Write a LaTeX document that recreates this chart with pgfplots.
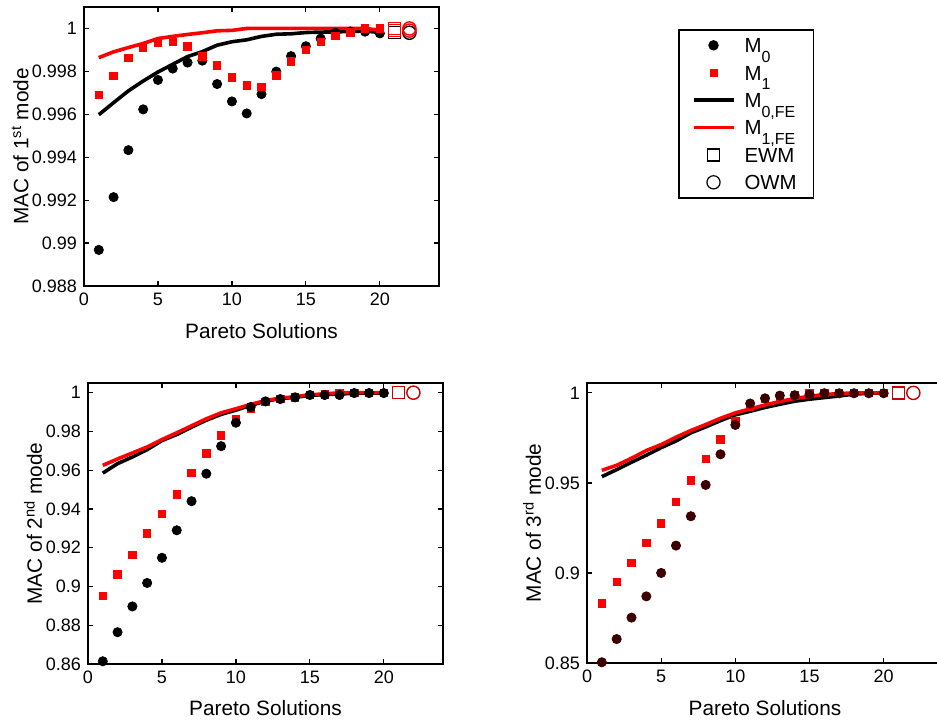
\documentclass[border=0pt]{standalone}
\usepackage{pgfplots}
\pgfplotsset{compat=1.18}
\usepackage{fontspec}
\setmainfont{Liberation Sans}

\definecolor{mred}{HTML}{FF0000}
\definecolor{mdark}{HTML}{3C0000}
\definecolor{mwm}{HTML}{C80000}

\newcommand{\sub}[1]{\raisebox{-0.9ex}{\fontsize{8}{9}\selectfont #1}}

\pgfplotsset{
  macaxis/.style={
    scale only axis, anchor=south west, width=177.5pt,
    xmin=0, xmax=24, xtick={0,5,10,15,20},
    tick align=inside, major tick length=2.5pt, clip=false,
    axis line style={line width=0.8pt},
    every tick/.style={black, line width=0.6pt},
    /pgf/number format/assume math mode=true,
    ticklabel style={font=\fontsize{9}{10}\selectfont},
    label style={font=\fontsize{10.4}{12}\selectfont},
    xlabel={Pareto Solutions},
  },
  m0/.style={only marks, mark=*, mark size=2.3pt, black},
  m1/.style={only marks, mark=square*, mark size=1.85pt, mred},
  fe0/.style={no marks, line width=1.8pt, black},
  fe1/.style={no marks, line width=1.8pt, mred},
  wmsq/.style={only marks, mark=square, mark size=3pt, mark options={line width=0.7pt}},
  wmci/.style={only marks, mark=o, mark size=3.3pt, mark options={line width=0.7pt}},
  legmark/.style={legend image code/.code={\draw[##1] plot coordinates {(10pt,0pt)};}},
  legline/.style={legend image code/.code={\draw[##1] (0pt,0pt) -- (20pt,0pt);}},
}

\begin{document}
\begin{tikzpicture}

% ---------------- 1st mode ----------------
\begin{axis}[macaxis,
  at={(42pt,217.5pt)}, height=139.5pt,
  ymin=0.988, ymax=1.001,
  ytick={0.988,0.990,0.992,0.994,0.996,0.998,1.000},
  yticklabels={0.988,0.99,0.992,0.994,0.996,0.998,1},
  ylabel={MAC of 1\textsuperscript{st} mode},
  xlabel style={at={(axis description cs:0.5,-0.161)}, anchor=center},
  ylabel style={at={(axis description cs:-0.180,0.5)}, anchor=center},
  legend style={at={(axis description cs:1.673,0.921)}, anchor=north west,
    draw=black, line width=0.8pt, font=\fontsize{10.2}{12}\selectfont,
    legend cell align=left, row sep=0pt, inner xsep=6.5pt, inner ysep=0.9pt,
    nodes={text height=10.55pt, text depth=3.15pt, inner ysep=0pt},
    /tikz/every odd column/.append style={column sep=2.6pt}},
]
\addlegendimage{only marks, mark=*, mark size=2.2pt, black, legmark}
\addlegendentry{M\sub{0}}
\addlegendimage{only marks, mark=square*, mark size=1.6pt, mred, legmark}
\addlegendentry{M\sub{1}}
\addlegendimage{line width=1.8pt, black, legline}
\addlegendentry{M\sub{0,FE}}
\addlegendimage{line width=1.8pt, mred, legline}
\addlegendentry{M\sub{1,FE}}
\addlegendimage{only marks, mark=square, mark size=3pt, black, mark options={line width=0.6pt}, legmark}
\addlegendentry{EWM}
\addlegendimage{only marks, mark=o, mark size=3.3pt, black, mark options={line width=0.6pt}, legmark}
\addlegendentry{OWM}

\addplot[fe0, forget plot] coordinates {
 (1,0.99598) (2,0.99654) (3,0.99709) (4,0.99755) (5,0.99797) (6,0.99833)
 (7,0.99869) (8,0.99892) (9,0.99922) (10,0.99938) (11,0.99947) (12,0.99963)
 (13,0.99973) (14,0.99975) (15,0.99981) (16,0.99983) (17,0.99984) (18,0.99986)
 (19,0.99988) (20,0.99981)};
\addplot[fe1, forget plot] coordinates {
 (1,0.99864) (2,0.99891) (3,0.99911) (4,0.99930) (5,0.99953) (6,0.99963)
 (7,0.99972) (8,0.99980) (9,0.99989) (10,0.99991) (11,1.0) (12,1.0)
 (13,1.0) (14,1.0) (15,1.0) (16,1.0) (17,1.0) (18,1.0) (19,1.0) (20,0.99992)};
\addplot[m0, forget plot] coordinates {
 (1,0.98968) (2,0.99214) (3,0.99433) (4,0.99623) (5,0.99760) (6,0.99813)
 (7,0.99841) (8,0.99850) (9,0.99741) (10,0.99660) (11,0.99604) (12,0.99694)
 (13,0.99799) (14,0.99871) (15,0.99917) (16,0.99953) (17,0.99980) (18,0.99986)
 (19,0.99985) (20,0.99977)};
\addplot[m1, forget plot] coordinates {
 (1,0.99690) (2,0.99780) (3,0.99864) (4,0.99908) (5,0.99935) (6,0.99936)
 (7,0.99917) (8,0.99869) (9,0.99827) (10,0.99772) (11,0.99735) (12,0.99727)
 (13,0.99782) (14,0.99846) (15,0.99900) (16,0.99938) (17,0.99964) (18,0.99981)
 (19,1.0) (20,1.0)};
\addplot[wmsq, black, forget plot] coordinates {(21,0.99980)};
\addplot[wmsq, mred, forget plot] coordinates {(21,0.99990) (21,1.0)};
\addplot[wmci, black, forget plot] coordinates {(22,0.99980)};
\addplot[wmci, mred, forget plot] coordinates {(22,0.99990) (22,1.0)};
\end{axis}

% ---------------- 2nd mode ----------------
\begin{axis}[macaxis,
  at={(44pt,28.5pt)}, height=140.5pt,
  ymin=0.86, ymax=1.005,
  ytick={0.86,0.88,0.90,0.92,0.94,0.96,0.98,1.00},
  yticklabels={0.86,0.88,0.9,0.92,0.94,0.96,0.98,1},
  ylabel={MAC of 2\textsuperscript{nd} mode},
  xlabel style={at={(axis description cs:0.5,-0.157)}, anchor=center},
  ylabel style={at={(axis description cs:-0.155,0.5)}, anchor=center},
]
\addplot[fe0] coordinates {
 (1,0.9585) (2,0.9634) (3,0.9668) (4,0.9706) (5,0.9753) (6,0.9784)
 (7,0.9822) (8,0.9858) (9,0.9888) (10,0.9910) (11,0.9934) (12,0.9957)
 (13,0.9969) (14,0.9976) (15,0.9986) (16,0.9990) (17,0.9993) (18,0.9997)
 (19,0.9998) (20,0.9998)};
\addplot[fe1] coordinates {
 (1,0.9625) (2,0.9658) (3,0.9689) (4,0.9720) (5,0.9758) (6,0.9793)
 (7,0.9829) (8,0.9865) (9,0.9896) (10,0.9917) (11,0.9940) (12,0.9959)
 (13,0.9972) (14,0.9979) (15,0.9990) (16,0.9993) (17,1.0) (18,1.0)
 (19,1.0) (20,1.0)};
\addplot[m1] coordinates {
 (1,0.8951) (2,0.9062) (3,0.9162) (4,0.9274) (5,0.9374) (6,0.9476)
 (7,0.9585) (8,0.9687) (9,0.9779) (10,0.9862) (11,0.9919) (12,0.9952)
 (13,0.9967) (14,0.9976) (15,0.9988) (16,0.9991) (17,1.0) (18,1.0)
 (19,1.0) (20,1.0)};
\addplot[m0] coordinates {
 (1,0.8614) (2,0.8764) (3,0.8897) (4,0.9018) (5,0.9148) (6,0.9290)
 (7,0.9440) (8,0.9582) (9,0.9724) (10,0.9845) (11,0.9926) (12,0.9955)
 (13,0.9967) (14,0.9976) (15,0.9988) (16,0.9988) (17,0.9988) (18,0.9998)
 (19,0.9998) (20,0.9998)};
\addplot[wmsq, mwm] coordinates {(21,1.0)};
\addplot[wmci, mwm] coordinates {(22,1.0)};
\end{axis}

% ---------------- 3rd mode ----------------
\begin{axis}[macaxis,
  at={(293.5pt,29pt)}, width=178pt, height=140pt,
  ymin=0.85, ymax=1.0055,
  ytick={0.85,0.90,0.95,1.00},
  yticklabels={0.85,0.9,0.95,1},
  ylabel={MAC of 3\textsuperscript{rd} mode},
  xlabel style={at={(axis description cs:0.5,-0.16)}, anchor=center},
  ylabel style={at={(axis description cs:-0.154,0.5)}, anchor=center},
]
\addplot[fe0] coordinates {
 (1,0.9535) (2,0.9574) (3,0.9615) (4,0.9654) (5,0.9696) (6,0.9733)
 (7,0.9778) (8,0.9811) (9,0.9846) (10,0.9878) (11,0.9898) (12,0.9919)
 (13,0.9937) (14,0.9954) (15,0.9965) (16,0.9974) (17,0.9983) (18,0.9993)
 (19,0.9998) (20,1.0)};
\addplot[fe1] coordinates {
 (1,0.9570) (2,0.9598) (3,0.9637) (4,0.9680) (5,0.9713) (6,0.9754)
 (7,0.9791) (8,0.9824) (9,0.9859) (10,0.9889) (11,0.9911) (12,0.9933)
 (13,0.9952) (14,0.9969) (15,0.9981) (16,0.9991) (17,0.9996) (18,1.0)
 (19,1.0) (20,1.0)};
\addplot[m1] coordinates {
 (1,0.8831) (2,0.8952) (3,0.9057) (4,0.9167) (5,0.9276) (6,0.9394)
 (7,0.9513) (8,0.9633) (9,0.9741) (10,0.9846) (11,0.9922) (12,0.9965)
 (13,0.9980) (14,0.9987) (15,1.0) (16,1.0) (17,1.0) (18,1.0)
 (19,1.0) (20,1.0)};
\addplot[m0, mdark] coordinates {
 (1,0.8504) (2,0.8633) (3,0.8752) (4,0.8870) (5,0.9000) (6,0.9152)
 (7,0.9315) (8,0.9489) (9,0.9659) (10,0.9822) (11,0.9941) (12,0.9970)
 (13,0.9985) (14,0.9987) (15,0.9991) (16,0.9998) (17,0.9998) (18,0.9998)
 (19,0.9998) (20,0.9998)};
\addplot[wmsq, mwm] coordinates {(21,1.0)};
\addplot[wmci, mwm] coordinates {(22,1.0)};
\end{axis}

\pgfresetboundingbox
\useasboundingbox (0pt,0pt) rectangle (468.5pt,360.5pt);
\end{tikzpicture}
\end{document}
